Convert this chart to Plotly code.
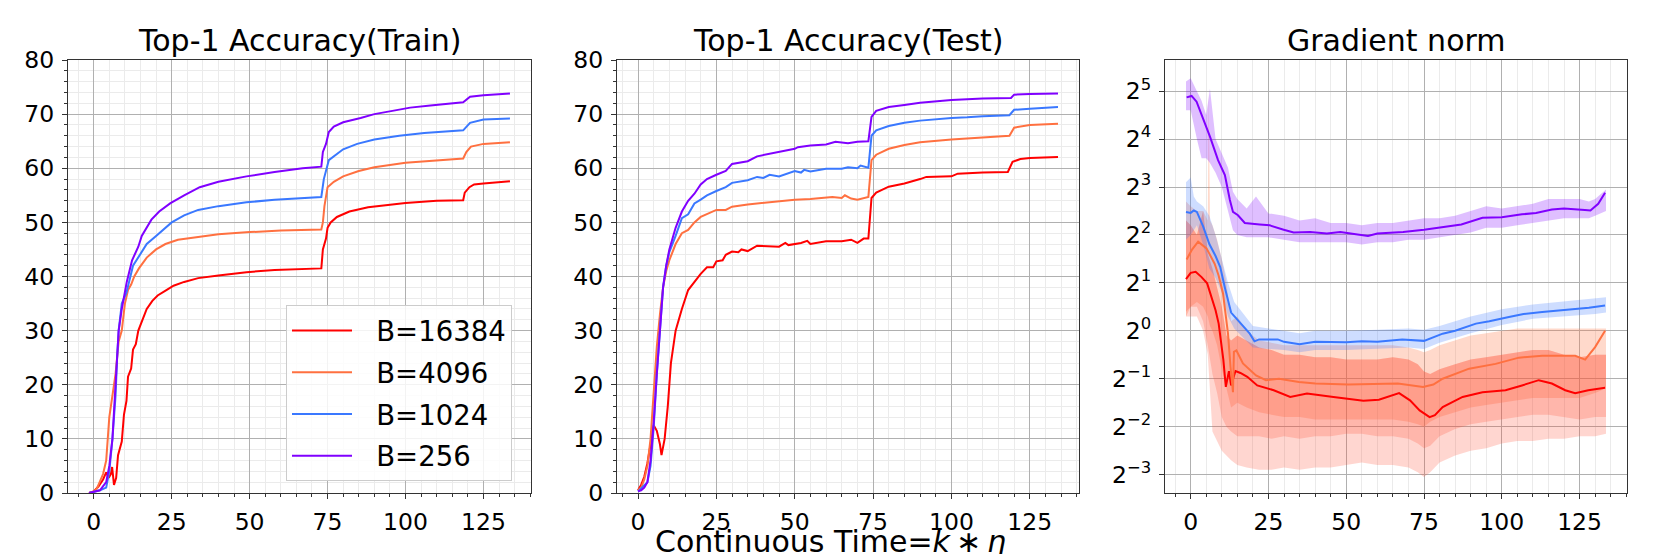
import plotly.graph_objects as go
from plotly.subplots import make_subplots

# ---- values (x = continuous time k*eta) ----
BATCHES = ['B=16384', 'B=4096', 'B=1024', 'B=256']
COLORS = ['#ff0000', '#ff7040', '#3a78ff', '#8000ff']

# Top-1 accuracy, train
train_red_x = [-1.5, 0, 1.5, 3, 4, 4.8, 5.5, 5.9, 6.5, 7.2, 7.8, 9, 9.7, 10.5, 11, 12, 12.6, 13.5,
               14.3, 16, 17, 18.8, 20.5, 23.3, 25.6, 29, 33.5, 40, 49, 58, 66, 73, 73.5, 74.5, 75,
               76, 78, 82, 88, 95, 100, 110, 118.5, 119, 120.5, 122, 125, 133.5]
train_red = [0, 0.3, 1.2, 2.5, 3.8, 2.8, 3.5, 4.8, 1.5, 2.8, 7, 9.5, 14.5, 17, 21.5, 23, 26.5, 27.5,
             30, 32.3, 34, 35.5, 36.5, 37.5, 38.3, 39, 39.7, 40.2, 40.8, 41.2, 41.4, 41.5, 45, 47, 49,
             50, 51, 52, 52.8, 53.3, 53.6, 54, 54.1, 55.5, 56.5, 57, 57.2, 57.6]
train_orange_x = [-1.5, 0, 1, 2, 3, 4, 5, 6, 7, 8, 9, 10, 11, 12, 13, 14.5, 17, 20, 23, 27, 33, 40,
                  50, 60, 73, 73.5, 74, 75, 77, 80, 85, 90, 100, 110, 118.5, 119.5, 121, 125, 133.5]
train_orange = [0, 0.3, 0.8, 2, 3.5, 6, 14, 18, 22, 28, 30, 35, 37.5, 38.5, 40, 41.5, 43.5, 45, 46,
                46.8, 47.3, 47.8, 48.2, 48.5, 48.7, 50, 53, 56.5, 57.5, 58.5, 59.5, 60.2, 61, 61.5,
                61.8, 63, 64, 64.5, 64.8]
train_blue_x = [-1.5, 0, 2, 4, 5, 6, 7, 7.5, 8, 9, 10.5, 12.6, 14.8, 17, 20, 22.8, 25, 29, 33.5, 40,
                49, 58, 67, 73, 73.8, 75.4, 80, 84.5, 90, 98, 106, 117, 118.5, 120.7, 125, 133.5]
train_blue = [0, 0.2, 0.5, 1, 4, 10, 18, 25, 30, 35, 37, 42, 44, 46, 47.5, 49, 50, 51.3, 52.3, 53,
              53.7, 54.2, 54.5, 54.7, 58, 61.5, 63.5, 64.5, 65.3, 66, 66.5, 67, 67, 68.4, 69, 69.2]
train_purple_x = [-1.5, 0, 2, 4, 5, 6, 7, 7.5, 8, 9, 10.6, 12.3, 14.3, 15.4, 17, 18.5, 21, 24.5, 29,
                  34, 40, 49, 58, 67, 73, 73.5, 74.5, 75.4, 77, 80, 85.6, 90, 95.8, 101.5, 108, 117,
                  118.5, 120.7, 125, 133.5]
train_purple = [0, 0.2, 0.5, 2, 5, 10, 20, 26, 30, 34, 39, 43, 45.5, 47.5, 49, 50.5, 52, 53.5, 55,
                56.5, 57.5, 58.5, 59.3, 60, 60.3, 63, 64.5, 66.7, 67.7, 68.5, 69.3, 70, 70.6, 71.2,
                71.6, 72, 72.2, 73.2, 73.5, 73.8]

# Top-1 accuracy, test
test_red_x = [0, 1, 2, 3, 4, 5, 6, 7, 7.5, 8.5, 9.5, 10.5, 12, 14, 16, 18, 20, 22, 24, 25, 27, 28,
              30, 32, 33, 35, 38, 45, 47, 48, 52, 54, 55, 60, 65, 68, 70, 72, 73.5, 74.5, 76, 80,
              85, 90, 92, 100, 102, 110, 118, 119.5, 122, 125, 134]
test_red = [0.5, 1.5, 3, 5.5, 9, 12.5, 11.5, 9, 7, 10, 16, 24, 30, 34, 37.5, 39, 40.5, 41.7, 41.7,
            42.8, 43, 44, 44.6, 44.5, 45, 44.7, 45.7, 45.5, 46.2, 45.8, 46.2, 46.6, 46, 46.5, 46.5,
            46.8, 46.2, 47, 47, 54.5, 55.5, 56.6, 57.2, 58, 58.4, 58.5, 59, 59.2, 59.3, 61.2, 61.7,
            61.9, 62.1]
test_orange_x = [0, 1, 2, 3, 4, 5, 6, 7, 8, 9, 10, 12, 14, 16, 18, 20, 22, 25, 28, 30, 35, 40, 45,
                 50, 55, 60, 62, 65, 66, 68, 70, 73.5, 74.5, 76, 80, 85, 90, 100, 110, 118.5, 120,
                 125, 134]
test_orange = [0.5, 1, 2.5, 5, 10, 18, 27, 33, 38, 41, 43, 46, 48, 48.6, 50, 51, 51.5, 52.3, 52.3,
               52.9, 53.3, 53.6, 54, 54.2, 54.3, 54.5, 54.7, 54.5, 55, 54.4, 54.2, 54.7, 61.5, 62.5,
               63.6, 64.3, 64.8, 65.3, 65.7, 66, 67.5, 68, 68.2]
test_blue_x = [0, 3, 4, 5, 6, 7, 8, 9, 10, 12, 14, 16, 18, 20, 22, 25, 28, 30, 35, 38, 40, 42, 45,
               50, 52, 53, 55, 60, 65, 67, 70, 71, 73.5, 74.5, 76, 80, 85, 90, 100, 105, 110, 118.5,
               120, 125, 134]
test_blue = [0.3, 2, 5, 12, 22, 31, 38, 42, 44.5, 47.5, 50.8, 51.5, 53.5, 54.2, 55, 55.8, 56.5,
             57.3, 57.8, 58.4, 58.2, 58.8, 58.5, 59.5, 59.2, 59.7, 59.4, 59.9, 59.9, 60.2, 60, 60.5,
             60.1, 66, 67, 67.8, 68.4, 68.8, 69.3, 69.4, 69.6, 69.8, 70.8, 71, 71.3]
test_purple_x = [0, 1, 2, 3, 4, 5, 6, 7, 8, 9, 10, 12, 14, 16, 18, 20, 22, 25, 28, 30, 35, 38, 45,
                 50, 51, 55, 60, 63, 67, 70, 73.5, 74.5, 76, 80, 85, 90, 100, 110, 119, 120, 125,
                 134]
test_purple = [0.3, 0.5, 1, 2, 6, 13, 22, 30, 38, 42, 45, 49, 52, 54, 55.3, 57, 58, 58.8, 59.5,
               60.8, 61.3, 62.2, 63, 63.6, 63.9, 64.2, 64.4, 64.9, 64.6, 64.9, 65, 69.5, 70.6,
               71.3, 71.7, 72.1, 72.6, 72.9, 73, 73.6, 73.7, 73.8]

# Gradient norm, smoothed curves (log2 of the norm)
grad_red_x = [-1.5, 0, 1.6, 3.5, 5.3, 6.5, 8, 9, 9.8, 10.5, 11.3, 12.3, 13, 14.4, 16, 18.2, 21.4,
              26.7, 32, 37.4, 45.9, 50, 55.5, 60.5, 67, 70.5, 73.6, 76.8, 78.5, 81, 87.4, 93.8,
              101.2, 106.5, 111.9, 116.1, 120.4, 123.6, 127.8, 133.2]
grad_red = [1.08, 1.21, 1.23, 1.12, 0.99, 0.75, 0.43, 0.15, -0.2, -0.6, -1.17, -0.84, -1.14, -0.84,
            -0.88, -0.96, -1.14, -1.24, -1.38, -1.31, -1.38, -1.42, -1.46, -1.44, -1.3, -1.45,
            -1.66, -1.80, -1.76, -1.59, -1.38, -1.28, -1.24, -1.14, -1.03, -1.10, -1.24, -1.30,
            -1.24, -1.19]
grad_orange_x = [-1.3, 0.5, 2.4, 5.1, 7.7, 9, 10.4, 11.2, 12, 12.8, 13.6, 13.9, 14.7, 16.8, 21,
                 24.2, 28.4, 34.8, 40.1, 50.7, 59.8, 66.6, 74.7, 78, 81, 89.5, 98, 105.5, 113,
                 123.6, 126.8, 130, 133.2]
grad_orange = [1.49, 1.7, 1.86, 1.72, 1.40, 1.15, 0.78, 0.4, -0.06, -0.75, -1.28, -0.44, -0.41,
               -0.68, -0.93, -1.03, -1.0, -1.07, -1.1, -1.12, -1.1, -1.1, -1.17, -1.12, -1.0,
               -0.79, -0.69, -0.56, -0.52, -0.52, -0.6, -0.34, 0.0]
grad_blue_x = [-1.5, 0, 1, 2, 4, 6, 8, 9.5, 11, 12, 13, 14.5, 17, 19, 20.5, 22, 25, 28, 30, 35, 40,
               45, 50, 55, 60, 68, 75, 81, 85, 91.7, 96, 102.3, 107, 113, 118, 123.6, 128, 133.2]
grad_blue = [2.48, 2.46, 2.51, 2.48, 2.18, 1.81, 1.56, 1.33, 0.9, 0.64, 0.38, 0.27, 0.09, -0.06,
             -0.22, -0.18, -0.18, -0.18, -0.23, -0.28, -0.23, -0.24, -0.24, -0.22, -0.23, -0.18,
             -0.21, -0.06, 0.0, 0.15, 0.2, 0.29, 0.35, 0.39, 0.42, 0.46, 0.48, 0.53]
grad_purple_x = [-1.3, 0.3, 1.9, 4, 6.2, 8.8, 11, 12.6, 13.6, 15.2, 17.4, 22.2, 25.4, 29.9, 33.1,
                 38.4, 43.8, 48.1, 54.5, 57, 60, 68.3, 75, 81, 87, 93.8, 100, 106.5, 111, 116.1,
                 120, 126.7, 128.5, 131, 133.2]
grad_purple = [4.87, 4.9, 4.78, 4.43, 4.05, 3.56, 3.25, 2.73, 2.48, 2.41, 2.25, 2.22, 2.2, 2.11,
               2.05, 2.06, 2.03, 2.06, 2.0, 1.98, 2.03, 2.06, 2.11, 2.16, 2.22, 2.36, 2.37, 2.43,
               2.46, 2.53, 2.55, 2.52, 2.51, 2.65, 2.88]

# Gradient norm, raw (unsmoothed) spread: envelopes in log2
raw_red_x = [-1.5, 0, 2, 4, 5.5, 7, 8.5, 10, 11.5, 13, 15, 18, 22, 26, 30, 35, 40, 45, 50, 55, 60,
             65, 70, 73, 75, 77, 80, 85, 90, 95, 100, 105, 110, 115, 120, 125, 130, 133.5]
raw_red_hi = [2.3, 2.2, 2.0, 2.5, 1.6, 1.3, 0.9, 0.5, -0.1, -0.2, -0.1, -0.2, -0.35, -0.4, -0.5,
              -0.5, -0.55, -0.55, -0.6, -0.6, -0.6, -0.55, -0.6, -0.7, -0.85, -0.9, -0.8, -0.7,
              -0.6, -0.55, -0.5, -0.45, -0.4, -0.4, -0.5, -0.55, -0.5, -0.5]
raw_red_core_lo = [0.4, 0.5, 0.5, 0.2, -0.3, -0.9, -1.3, -1.8, -2.0, -2.1, -2.2, -2.2, -2.2,
                   -2.25, -2.2, -2.25, -2.2, -2.2, -2.15, -2.15, -2.2, -2.2, -2.25, -2.35, -2.45,
                   -2.4, -2.2, -2.05, -1.95, -1.9, -1.85, -1.8, -1.75, -1.75, -1.8, -1.85, -1.8,
                   -1.8]
raw_red_lo = [0.3, 0.3, 0.3, 0.0, -0.5, -2.1, -2.3, -2.5, -2.6, -2.7, -2.8, -2.85, -2.9, -2.9,
              -2.85, -2.9, -2.85, -2.85, -2.8, -2.75, -2.8, -2.8, -2.85, -2.95, -3.05, -2.95,
              -2.75, -2.6, -2.5, -2.45, -2.35, -2.3, -2.3, -2.25, -2.25, -2.2, -2.2, -2.15]
raw_orange_x = [-1.5, 0, 2, 4, 5.5, 5.8, 6.2, 7, 8.5, 10, 11.5, 13, 15, 18, 22, 26, 30, 35, 40,
                45, 50, 55, 60, 65, 70, 73, 75, 77, 80, 85, 90, 95, 100, 105, 110, 115, 120, 125,
                130, 133.5]
raw_orange_hi = [2.7, 2.6, 2.5, 2.5, 2.3, 5.0, 2.3, 2.2, 1.9, 1.5, 1.0, 0.2, 0.3, 0.0, -0.2,
                 -0.25, -0.3, -0.3, -0.3, -0.3, -0.3, -0.3, -0.3, -0.3, -0.35, -0.4, -0.45, -0.4,
                 -0.3, -0.2, -0.1, -0.05, 0.0, 0.05, 0.05, 0.05, 0.05, 0.05, 0.05, 0.05]
raw_orange_lo = [0.3, 0.5, 0.6, 0.5, 0.3, 0.2, 0.1, 0.0, -0.3, -0.8, -1.2, -1.6, -1.5, -1.6, -1.7,
                 -1.75, -1.8, -1.8, -1.85, -1.85, -1.85, -1.85, -1.85, -1.85, -1.9, -1.95, -2.0,
                 -1.9, -1.8, -1.7, -1.6, -1.55, -1.5, -1.45, -1.4, -1.4, -1.4, -1.4, -1.3, -1.2]
raw_blue_x = [-1.5, 0, 1, 2, 4, 6, 8, 10, 12, 14, 17, 20, 25, 30, 35, 40, 50, 60, 70, 75, 80, 90,
              100, 110, 120, 125, 130, 133.5]
raw_blue_hi = [3.1, 3.2, 2.8, 2.7, 2.6, 2.4, 2.0, 1.5, 1.0, 0.6, 0.35, 0.1, 0.05, 0.0, -0.05, 0.0,
               0.0, 0.02, 0.05, 0.02, 0.1, 0.3, 0.45, 0.55, 0.62, 0.65, 0.68, 0.7]
raw_blue_lo = [1.9, 2.0, 2.1, 2.2, 1.8, 1.3, 1.1, 0.8, 0.3, 0.05, -0.15, -0.35, -0.38, -0.4,
               -0.45, -0.4, -0.4, -0.38, -0.35, -0.38, -0.25, -0.05, 0.12, 0.25, 0.3, 0.32, 0.35,
               0.38]
raw_purple_x = [-1.5, 0, 2, 3.5, 5, 6.2, 8, 10, 12, 13.6, 15, 18, 21, 25, 30, 35, 40, 45, 50, 55,
                60, 65, 70, 75, 80, 85, 90, 95, 100, 105, 110, 115, 120, 125, 128, 130, 133.5]
raw_purple_hi = [5.2, 5.27, 5.0, 4.8, 4.5, 5.05, 4.0, 3.7, 3.4, 2.9, 2.75, 2.55, 2.8, 2.45, 2.4,
                 2.3, 2.35, 2.25, 2.25, 2.2, 2.25, 2.25, 2.3, 2.35, 2.35, 2.4, 2.5, 2.6, 2.55, 2.6,
                 2.65, 2.75, 2.75, 2.75, 2.7, 2.75, 2.95]
raw_purple_lo = [4.6, 4.6, 4.0, 3.6, 3.6, 3.5, 3.3, 3.0, 2.5, 2.1, 2.0, 1.95, 1.95, 1.95, 1.9,
                 1.85, 1.85, 1.85, 1.85, 1.8, 1.85, 1.85, 1.9, 1.9, 1.95, 2.0, 2.05, 2.15, 2.15,
                 2.2, 2.25, 2.3, 2.35, 2.35, 2.35, 2.4, 2.5]

GRAD_EXPONENTS = [-3, -2, -1, 0, 1, 2, 3, 4, 5]

FONT = 'DejaVu Sans'
AXIS_COLOR = '#333333'
# the page body keeps its default 8px margin, so the figure is sized to fit the window
PAGE_W, PAGE_H, OFF = 1661, 554, 8
W, H = PAGE_W - OFF, PAGE_H - OFF
# axes boxes in window pixels (left, right), shared top/bottom
BOXES = [(68, 531), (617, 1079), (1165, 1627)]
TOP, BOTTOM = 60, 493


def px_x(px):
    return (px - OFF) / W


def px_y(px):
    return 1 - (px - OFF) / H


def pow2(values):
    return [2.0 ** v for v in values]


def add_line(fig, x, y, color, col, name=None, legend=False):
    fig.add_trace(go.Scatter(x=x, y=y, mode='lines', line=dict(color=color, width=2),
                             name=name, showlegend=legend, legendgroup=name),
                  row=1, col=col)


def add_band(fig, x, lo, hi, fillcolor):
    fig.add_trace(go.Scatter(x=x, y=pow2(lo), mode='lines', line=dict(width=0),
                             showlegend=False, hoverinfo='skip'), row=1, col=3)
    fig.add_trace(go.Scatter(x=x, y=pow2(hi), mode='lines', line=dict(width=0),
                             fill='tonexty', fillcolor=fillcolor,
                             showlegend=False, hoverinfo='skip'), row=1, col=3)


fig = make_subplots(rows=1, cols=3)

train = [(train_red_x, train_red), (train_orange_x, train_orange),
         (train_blue_x, train_blue), (train_purple_x, train_purple)]
for (x, y), color, name in zip(train, COLORS, BATCHES):
    # leading spaces open the gap between the line sample and the label
    add_line(fig, x, y, color, 1, name='\u2002\u2009' + name, legend=True)

test = [(test_red_x, test_red), (test_orange_x, test_orange),
        (test_blue_x, test_blue), (test_purple_x, test_purple)]
for (x, y), color in zip(test, COLORS):
    add_line(fig, x, y, color, 2)

add_band(fig, raw_orange_x, raw_orange_lo, raw_orange_hi, 'rgba(255,120,70,0.28)')
add_band(fig, raw_red_x, raw_red_lo, raw_red_hi, 'rgba(255,70,40,0.22)')
add_band(fig, raw_red_x, raw_red_core_lo, raw_red_hi, 'rgba(255,70,40,0.22)')
add_band(fig, raw_blue_x, raw_blue_lo, raw_blue_hi, 'rgba(58,120,255,0.25)')
add_band(fig, raw_purple_x, raw_purple_lo, raw_purple_hi, 'rgba(128,0,255,0.25)')

grad = [(grad_red_x, grad_red), (grad_orange_x, grad_orange),
        (grad_blue_x, grad_blue), (grad_purple_x, grad_purple)]
for (x, y), color in zip(grad, COLORS):
    add_line(fig, x, pow2(y), color, 3)

common = dict(showline=True, linecolor=AXIS_COLOR, linewidth=1.3, mirror=True,
              ticks='outside', ticklen=5, tickwidth=1.2, tickcolor=AXIS_COLOR,
              showgrid=True, gridcolor='#b0b0b0', gridwidth=1, zeroline=False,
              automargin=False, ticklabelstandoff=3,
              tickfont=dict(family=FONT, size=23.5, color='black'))
minor = dict(ticks='outside', ticklen=3, tickcolor=AXIS_COLOR, showgrid=True,
             gridcolor='#ebebeb', gridwidth=1)

x_ranges = [[-8.25, 140.25], [-6.7, 140.7], [-8.25, 140.25]]
for i in range(3):
    fig.update_xaxes(range=x_ranges[i], tickvals=[0, 25, 50, 75, 100, 125],
                     domain=[px_x(BOXES[i][0]), px_x(BOXES[i][1])],
                     minor=dict(dtick=5, tick0=0, **minor), **common, row=1, col=i + 1)

for i in range(2):
    fig.update_yaxes(range=[0, 80], dtick=10, tick0=0,
                     domain=[px_y(BOTTOM), px_y(TOP)],
                     minor=dict(dtick=2, tick0=0, **minor), **common, row=1, col=i + 1)

log2_10 = 0.30103
fig.update_yaxes(type='log', range=[-3.384 * log2_10, 5.65 * log2_10],
                 tickvals=pow2(GRAD_EXPONENTS),
                 ticktext=['2<sup>%s</sup>' % str(k).replace('-', '\u2212')
                           for k in GRAD_EXPONENTS],
                 domain=[px_y(BOTTOM), px_y(TOP)], **common, row=1, col=3)

titles = ['Top-1 Accuracy(Train)', 'Top-1 Accuracy(Test)', 'Gradient norm']
annotations = []
for (left, right), text in zip(BOXES, titles):
    annotations.append(dict(text=text, x=px_x((left + right) / 2), y=px_y(TOP),
                            xref='paper', yref='paper', xanchor='center', yanchor='bottom',
                            showarrow=False, font=dict(family=FONT, size=30, color='black')))
annotations.append(dict(text='Continuous Time=<i>k</i>\u2009\u2217\u2009<i>\u03b7</i>',
                        x=px_x(830), y=px_y(561), xref='paper', yref='paper',
                        xanchor='center', yanchor='bottom', showarrow=False,
                        font=dict(family=FONT, size=30, color='black')))

fig.update_layout(
    width=W, height=H,
    margin=dict(l=0, r=0, t=0, b=0, autoexpand=False),
    paper_bgcolor='white', plot_bgcolor='white',
    font=dict(family=FONT, color='black'),
    annotations=annotations,
    legend=dict(x=px_x(286), y=px_y(305), xanchor='left', yanchor='top',
                bgcolor='rgba(255,255,255,0.85)', bordercolor='#cccccc', borderwidth=1,
                font=dict(family=FONT, size=27.5, color='black'),
                itemwidth=60, tracegroupgap=3),
)

fig.write_html('out.html')
